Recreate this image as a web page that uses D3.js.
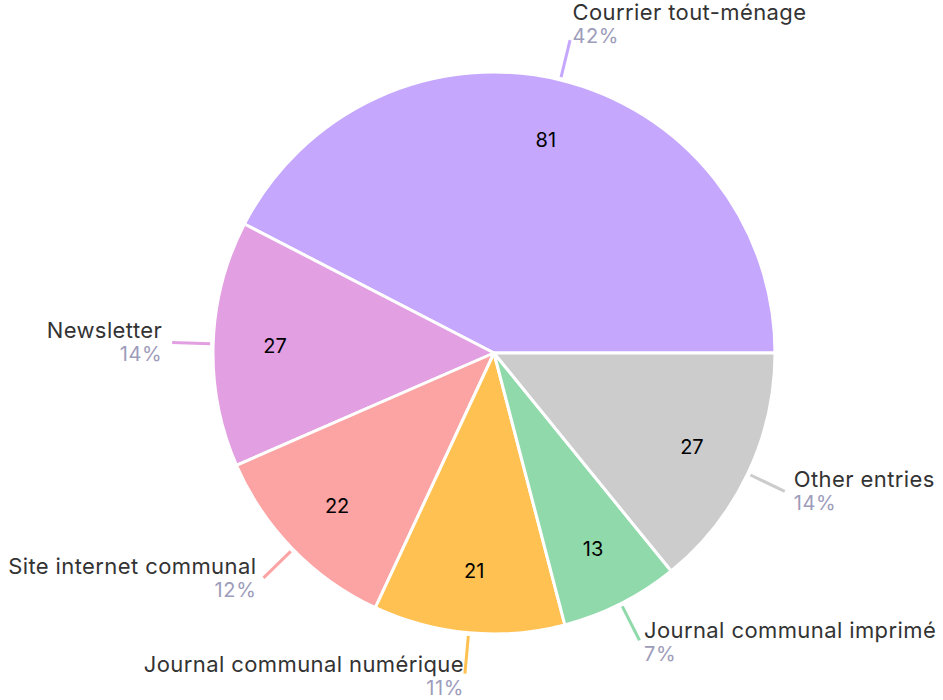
<!DOCTYPE html>
<html>
<head>
  <meta charset="UTF-8">
  <style>
    body { margin: 0; background: #fff; }
    svg { display: block; }
    text { font-family: Inter, "Open Sans", sans-serif; }
  </style>
</head>
<body>
<svg></svg>
<script src="https://d3js.org/d3.v7.min.js"></script>
<script>
let width = 943, height = 700;

// Data
let categories = ["Courrier tout-ménage", "Newsletter", "Site internet communal",
  "Journal communal numérique", "Journal communal imprimé", "Other entries"];
let values = [81, 27, 22, 21, 13, 27];
let colors = ["#c5a7fd", "#e29fe1", "#fca3a3", "#ffc152", "#90d9ab", "#cccccc"];

let cx = 494, cy = 353, radius = 281;

let svg = d3.select("svg")
  .attr("width", width)
  .attr("height", height);

let g = svg.append("g").attr("transform", `translate(${cx},${cy})`);

let total = d3.sum(values);
let data = categories.map((c, i) => ({ name: c, value: values[i], color: colors[i] }));

// start at 3 o'clock, go counter-clockwise
let pie = d3.pie()
  .value(d => d.value)
  .sort(null)
  .startAngle(Math.PI / 2)
  .endAngle(Math.PI / 2 - 2 * Math.PI);

let arcs = pie(data);
let arc = d3.arc().innerRadius(0).outerRadius(radius);
let labelArc = d3.arc().innerRadius(radius * 0.78).outerRadius(radius * 0.78);

g.selectAll("path.slice")
  .data(arcs)
  .enter()
  .append("path")
  .attr("class", "slice")
  .attr("d", arc)
  .attr("fill", d => d.data.color)
  .attr("stroke", "#fff")
  .attr("stroke-width", 3)
  .attr("stroke-linejoin", "round");

// values inside slices
g.selectAll("text.val")
  .data(arcs)
  .enter()
  .append("text")
  .attr("class", "val")
  .attr("transform", d => `translate(${labelArc.centroid(d)})`)
  .attr("text-anchor", "middle")
  .attr("dy", "0.36em")
  .style("font-size", "20px")
  .style("fill", "#000")
  .text(d => d.data.value);

// outer labels with leader lines
let r1 = radius + 3, r2 = radius + 41;
arcs.forEach(d => {
  let a = (d.startAngle + d.endAngle) / 2; // d3 angle, clockwise from 12 o'clock
  let sx = Math.sin(a), sy = -Math.cos(a);
  let x2 = sx * r2, y2 = sy * r2;

  g.append("line")
    .attr("x1", sx * r1).attr("y1", sy * r1)
    .attr("x2", x2).attr("y2", y2)
    .attr("stroke", d.data.color)
    .attr("stroke-width", 3);

  let right = sx >= 0;
  let tx = x2 + 10 * sx;
  // shift the block upward near the top, slightly down near the bottom
  let shift = sy < 0 ? -17 * sy * sy : 2 * Math.pow(sy, 4);
  let ty = y2 - 4 + shift;

  let t = g.append("text")
    .attr("text-anchor", right ? "start" : "end");
  t.append("tspan")
    .attr("x", tx).attr("y", ty)
    .style("font-size", "22px")
    .style("letter-spacing", "0.4px")
    .style("fill", "#333")
    .text(d.data.name);
  t.append("tspan")
    .attr("x", tx).attr("y", ty + 23)
    .style("font-size", "20px")
    .style("letter-spacing", "0.6px")
    .style("fill", "#9d9cba")
    .text(Math.round(d.data.value / total * 100) + "%");
});
</script>
</body>
</html>
